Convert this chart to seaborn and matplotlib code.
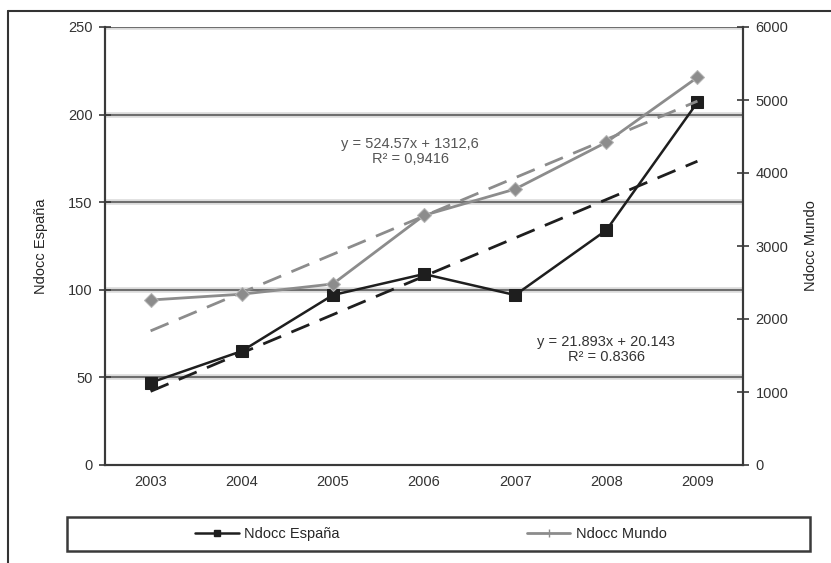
import matplotlib
matplotlib.use("Agg")
import matplotlib.pyplot as plt
import seaborn as sns
import pandas as pd
import numpy as np
from matplotlib.lines import Line2D
from matplotlib.patches import Rectangle

# Data
years = ['2003', '2004', '2005', '2006', '2007', '2008', '2009']
espana = [47, 65, 97, 109, 97, 134, 207]
mundo = [2260, 2340, 2480, 3420, 3780, 4420, 5310]

# regression lines as printed on the chart (x = 1..7)
esp_slope, esp_icpt = 21.893, 20.143
mun_slope, mun_icpt = 524.57, 1312.6
esp_label = "y = 21.893x + 20.143\nR² = 0.8366"
mun_label = "y = 524.57x + 1312,6\nR² = 0,9416"

df = pd.DataFrame({'pos': np.arange(len(years)), 'year': years,
                   'espana': espana, 'mundo': mundo})
xnum = df['pos'] + 1
df['esp_trend'] = esp_slope * xnum + esp_icpt
df['mun_trend'] = mun_slope * xnum + mun_icpt

sns.set_style("white")
plt.rcParams['font.family'] = ['Liberation Sans', 'DejaVu Sans']
fs = 10.5

W, H = 831, 563
fig = plt.figure(figsize=(W / 100, H / 100), dpi=100)
ax = fig.add_axes([105 / W, (H - 465) / H, (743 - 105) / W, (465 - 27) / H])
ax2 = ax.twinx()

dark = '#1e1e1e'
gray = '#8c8c8c'
axis_col = '#3a3a3a'

# horizontal gridlines on left-axis ticks
for v in [50, 100, 150, 200, 250]:
    ax.axhline(v, color='#dadada', lw=4, zorder=0)
    ax.axhline(v, color='#5a5a5a', lw=1.2, zorder=0.5)

# trend lines
sns.lineplot(data=df, x='pos', y='esp_trend', ax=ax, color=dark, lw=2,
             linestyle=(0, (7, 4)), zorder=2)
sns.lineplot(data=df, x='pos', y='mun_trend', ax=ax2, color=gray, lw=2,
             linestyle=(0, (7, 4)), zorder=2)

# series
sns.lineplot(data=df, x='pos', y='espana', ax=ax, color=dark, lw=1.8,
             marker='s', markersize=9, markeredgecolor=dark, zorder=3)
sns.lineplot(data=df, x='pos', y='mundo', ax=ax2, color=gray, lw=2,
             marker='D', markersize=7, markeredgecolor='#b5b5b5', zorder=3)

ax.set_xlim(-0.5, len(years) - 0.5)
ax.set_ylim(0, 250)
ax2.set_ylim(0, 6000)
ax.set_yticks([0, 50, 100, 150, 200, 250])
ax2.set_yticks([0, 1000, 2000, 3000, 4000, 5000, 6000])

# category ticks at boundaries, labels centred
ax.set_xticks(np.arange(-0.5, len(years), 1.0))
ax.set_xticklabels([])
ax.set_xticks(np.arange(len(years)), minor=True)
ax.set_xticklabels(years, minor=True)
ax.tick_params(axis='x', which='major', direction='inout', length=8,
               color=axis_col, width=1.2)
ax.tick_params(axis='x', which='minor', length=0, pad=7, labelsize=fs,
               labelcolor='#333333')
ax.tick_params(axis='y', direction='inout', length=8, color=axis_col,
               width=1.2, labelsize=fs, labelcolor='#333333', left=True, pad=5)
ax2.tick_params(axis='y', direction='inout', length=8, color=axis_col,
                width=1.2, labelsize=fs, labelcolor='#333333', right=True, pad=5)

for a in (ax, ax2):
    a.spines['top'].set_visible(False)
    for s in ('left', 'right', 'bottom'):
        a.spines[s].set_color(axis_col)
        a.spines[s].set_linewidth(1.5)
    a.set_xlabel('')

ax.set_ylabel('Ndocc España', fontsize=fs, color='#222222', labelpad=14)
ax2.set_ylabel('Ndocc Mundo', fontsize=fs, color='#222222', labelpad=11,
               rotation=90)

# equations
ax.text(2.85, 179, mun_label, ha='center', va='center', fontsize=fs,
        color='#555555', linespacing=1.05)
ax.text(5.0, 66, esp_label, ha='center', va='center', fontsize=fs,
        color='#333333', linespacing=1.05)

# legend box at the bottom
fig.add_artist(Rectangle((67 / W, (H - 551) / H), (810 - 67) / W, 34 / H,
                         transform=fig.transFigure, fill=False,
                         edgecolor='#3a3a3a', lw=1.8))
handles = [Line2D([], [], color=dark, lw=1.8, marker='s', markersize=5),
           Line2D([], [], color=gray, lw=2, marker='|', markersize=6)]
fig.legend(handles, ['Ndocc España', 'Ndocc Mundo'], loc='center',
           bbox_to_anchor=(431 / W, (H - 534) / H), ncol=2, frameon=False,
           fontsize=fs, columnspacing=12.8, handlelength=3, handletextpad=0.4)

# outer border (left and top edges)
fig.add_artist(Line2D([8 / W, 8 / W], [0, (H - 11) / H], color='#333333', lw=1.5))
fig.add_artist(Line2D([8 / W, 1], [(H - 11) / H, (H - 11) / H], color='#333333', lw=1.5))

fig.savefig('out.png', dpi=100)
